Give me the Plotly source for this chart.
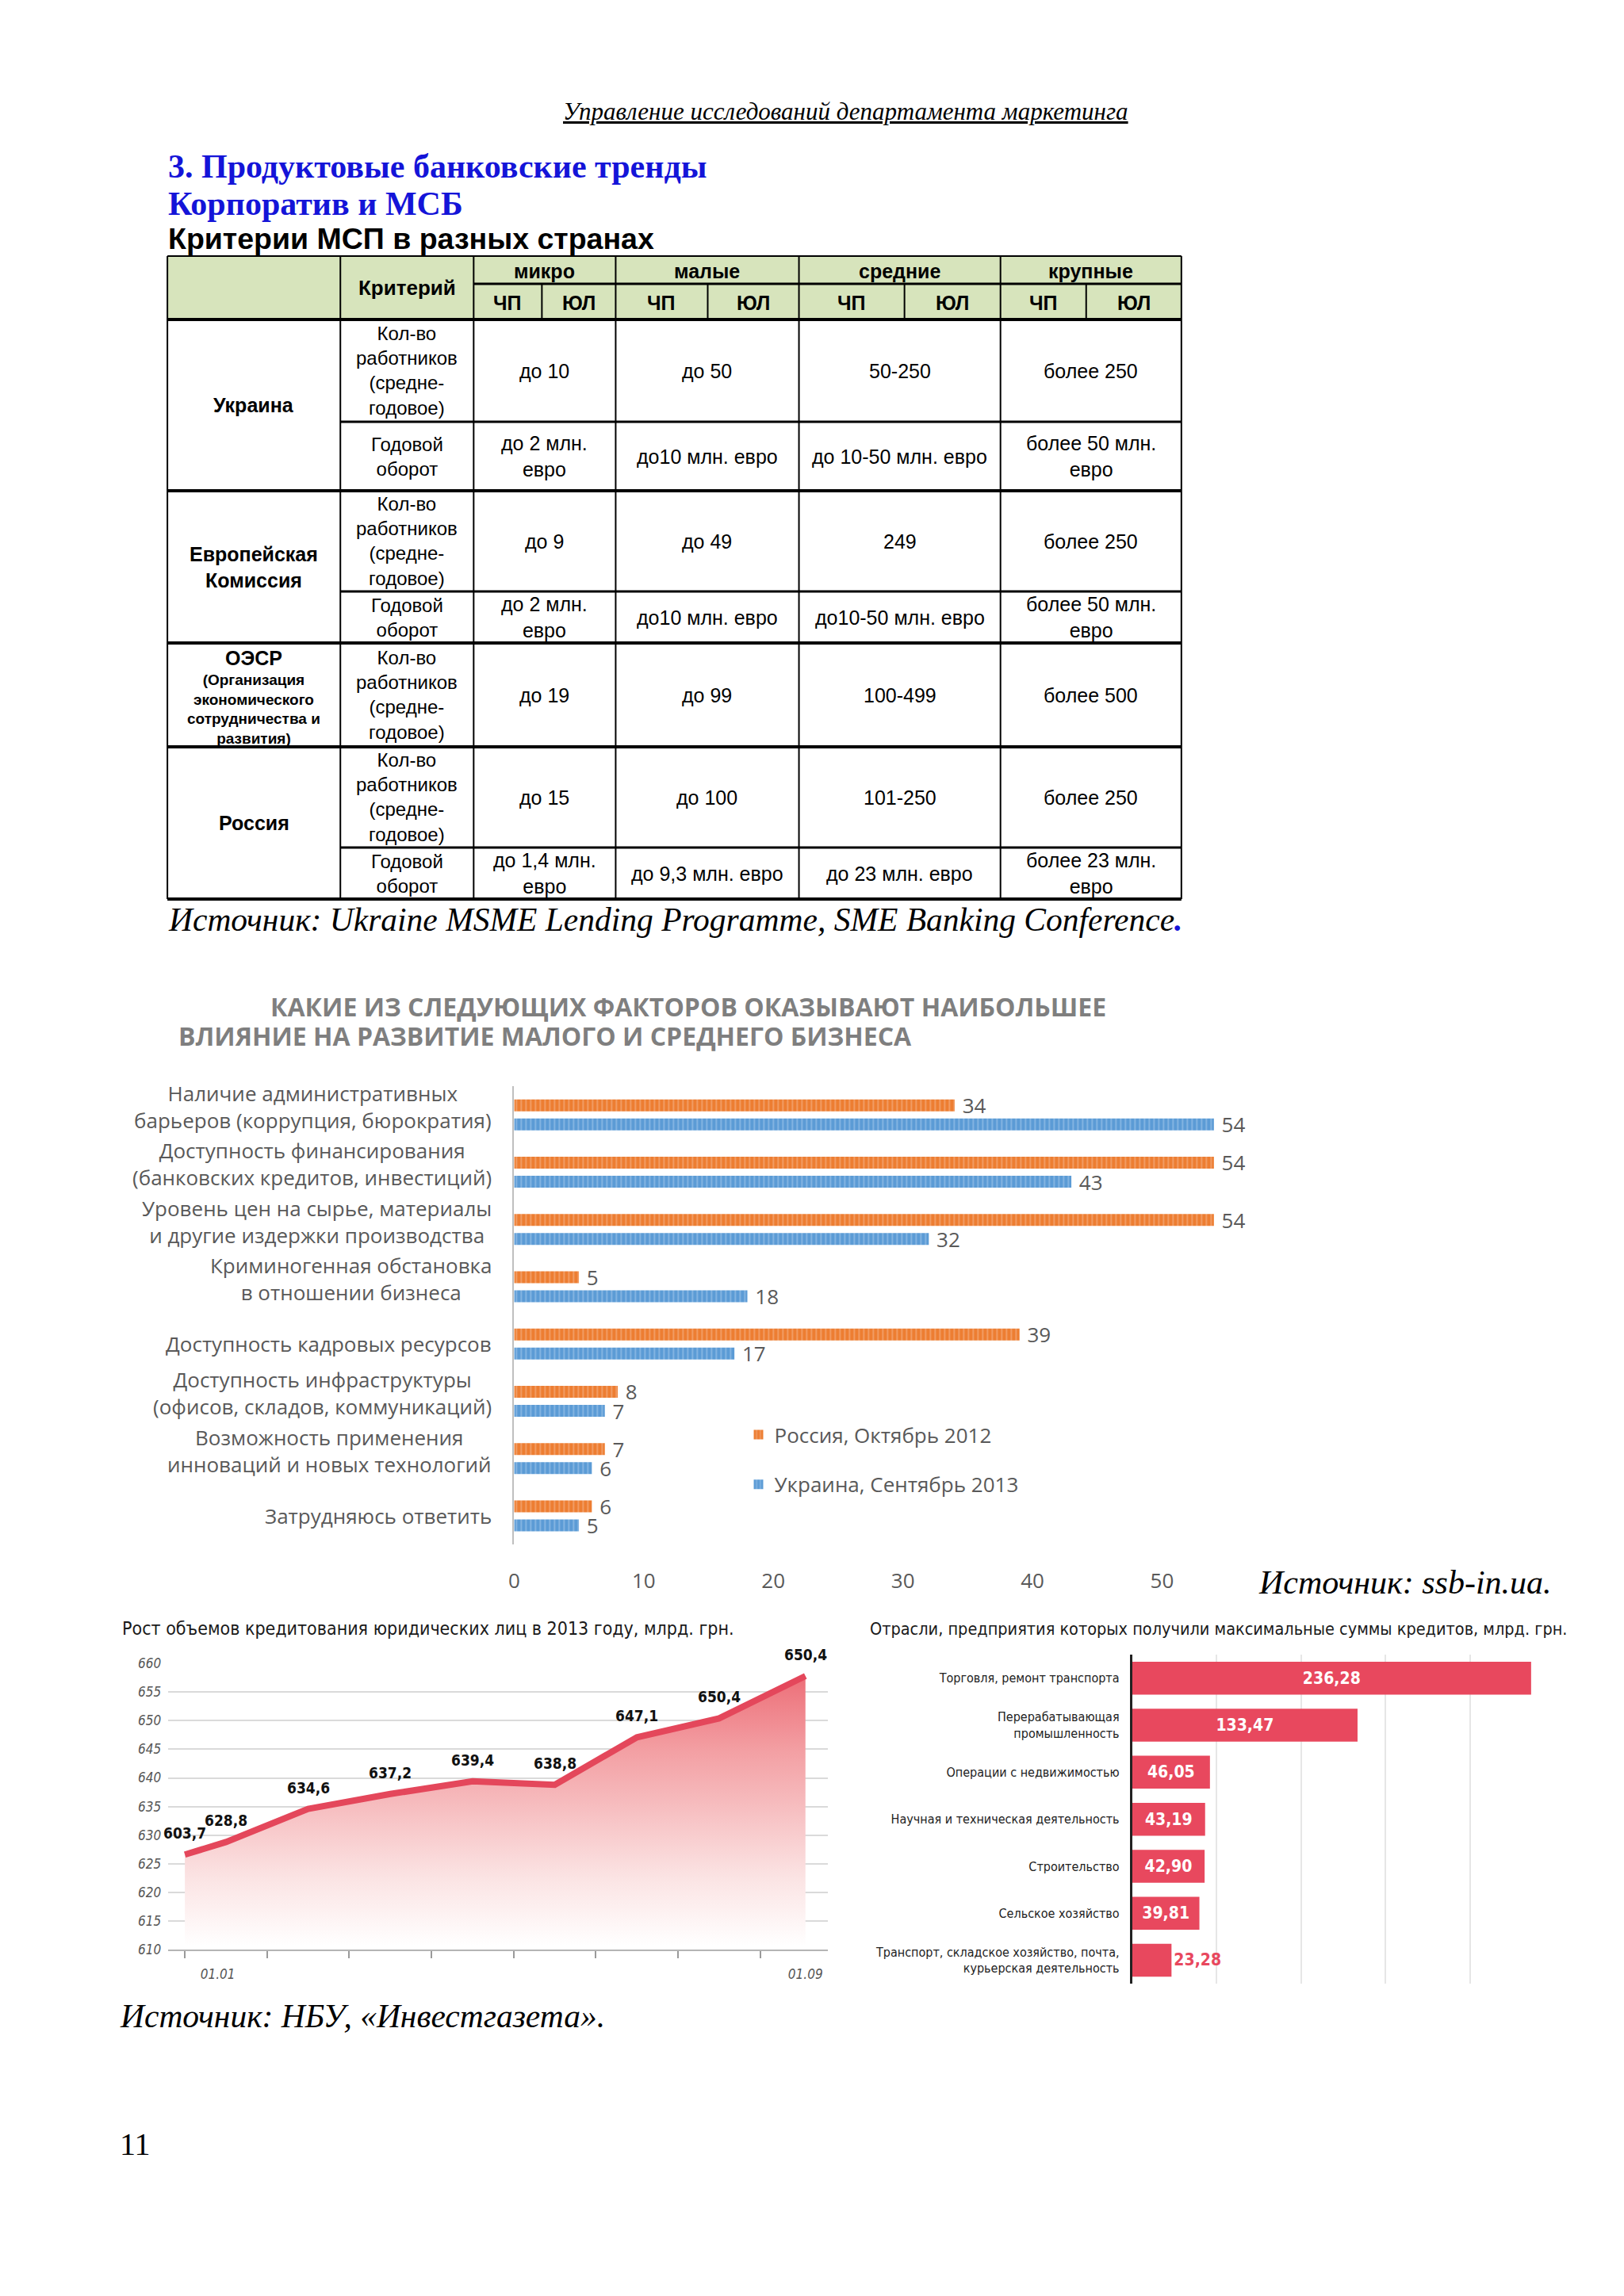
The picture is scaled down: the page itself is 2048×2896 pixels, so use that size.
import plotly.graph_objects as go

# figure size kept a little smaller than the page; positions below are page pixels
W, H = 2032, 2880
X_OFF, X_SCALE, Y_OFF, Y_SCALE = 13, 0.996, 18, 0.993

# ---------------- DATA ----------------
# Table: criteria of SME in different countries
table_groups = ["микро", "малые", "средние", "крупные"]
table_sub = ["ЧП", "ЮЛ"]
table_countries = ["Украина", "Европейская<br>Комиссия", "ОЭСР", "Россия"]
oecd_note = "(Организация<br>экономического<br>сотрудничества и<br>развития)"
crit_emp = "Кол-во<br>работников<br>(средне-<br>годовое)"
crit_turn = "Годовой<br>оборот"
ukraine_emp = ["до 10", "до 50", "50-250", "более 250"]
ukraine_turn = ["до 2 млн.<br>евро", "до10 млн. евро", "до 10-50 млн. евро", "более 50 млн.<br>евро"]
ec_emp = ["до 9", "до 49", "249", "более 250"]
ec_turn = ["до 2 млн.<br>евро", "до10 млн. евро", "до10-50 млн. евро", "более 50 млн.<br>евро"]
oecd_emp = ["до 19", "до 99", "100-499", "более 500"]
russia_emp = ["до 15", "до 100", "101-250", "более 250"]
russia_turn = ["до 1,4 млн.<br>евро", "до 9,3 млн. евро", "до 23 млн. евро", "более 23 млн.<br>евро"]

# Factors chart
factors = [
    "Наличие административных<br>барьеров (коррупция, бюрократия)",
    "Доступность финансирования<br>(банковских кредитов, инвестиций)",
    "Уровень цен на сырье, материалы<br>и другие издержки производства",
    "Криминогенная обстановка<br>в отношении бизнеса",
    "Доступность кадровых ресурсов",
    "Доступность инфраструктуры<br>(офисов, складов, коммуникаций)",
    "Возможность применения<br>инноваций и новых технологий",
    "Затрудняюсь ответить",
]
russia_2012 = [34, 54, 54, 5, 39, 8, 7, 6]
ukraine_2013 = [54, 43, 32, 18, 17, 7, 6, 5]
factor_ticks = [0, 10, 20, 30, 40, 50]

# Loans line chart
loan_month = [1.0, 1.5, 2.5, 3.5, 4.5, 5.5, 6.5, 7.5, 8.55]
loan_values = [626.6, 628.8, 634.6, 637.2, 639.4, 638.8, 647.1, 650.4, 657.8]
loan_labels = ["603,7", "628,8", "634,6", "637,2", "639,4", "638,8", "647,1", "650,4", "650,4"]
loan_yticks = [610, 615, 620, 625, 630, 635, 640, 645, 650, 655, 660]
loan_month_ticks = [1, 2, 3, 4, 5, 6, 7, 8]
loan_xlabels = ["01.01", "01.09"]
loan_xlabel_pos = [1.4, 8.55]

# Industries chart
industries = [
    "Торговля, ремонт транспорта",
    "Перерабатывающая<br>промышленность",
    "Операции с недвижимостью",
    "Научная и техническая деятельность",
    "Строительство",
    "Сельское хозяйство",
    "Транспорт, складское хозяйство, почта,<br>курьерская деятельность",
]
credits = [236.28, 133.47, 46.05, 43.19, 42.90, 39.81, 23.28]
credit_grid = [50, 100, 150, 200, 250]

# ---------------- HELPERS ----------------
def px(x):
    return ((x - X_OFF) / X_SCALE) / W

def py(y):
    return 1 - ((y - Y_OFF) / Y_SCALE) / H

SERIF = "Liberation Serif, Times New Roman, serif"
SANS = "Liberation Sans, Arial, sans-serif"
NARROW = "Liberation Sans Narrow, DejaVu Sans Condensed, Roboto Condensed, Arial Narrow, Liberation Sans"
OPEN = "Open Sans, Noto Sans, sans-serif"

annotations = []
shapes = []

def text(x, y, s, size, color="#000000", family=SANS, bold=False, italic=False,
         xanchor="center", yanchor="middle", align="center", underline=False):
    f = dict(size=size, color=color, family=family,
             weight="bold" if bold else "normal",
             style="italic" if italic else "normal")
    if underline:
        f["lineposition"] = "under"
    annotations.append(dict(x=px(x), y=py(y), xref="paper", yref="paper", text=s,
                            showarrow=False, xanchor=xanchor, yanchor=yanchor,
                            align=align, font=f, borderpad=0))

def hline(y, x0, x1, w=2):
    shapes.append(dict(type="line", xref="paper", yref="paper", x0=px(x0), x1=px(x1),
                       y0=py(y), y1=py(y), line=dict(color="#000000", width=w)))

def vline(x, y0, y1, w=2):
    shapes.append(dict(type="line", xref="paper", yref="paper", x0=px(x), x1=px(x),
                       y0=py(y0), y1=py(y1), line=dict(color="#000000", width=w)))

# ---------------- PAGE TEXT ----------------
text(1064, 140, "Управление исследований департамента маркетинга", 31, family=SERIF,
     italic=True, underline=True)
text(209, 210, "3. Продуктовые банковские тренды", 42, color="#1414d8", family=SERIF,
     bold=True, xanchor="left")
text(209, 257, "Корпоратив и МСБ", 42, color="#1414d8", family=SERIF, bold=True, xanchor="left")
text(209, 301, "Критерии МСП в разных странах", 37.5, family=SANS, bold=True, xanchor="left")

# ---------------- TABLE ----------------
col_x = [209, 427, 595, 681, 774, 890, 1005, 1138, 1259, 1367, 1487]
group_x = [595, 774, 1005, 1259, 1487]
t_top, t_mid, t_head = 323, 358, 403
country_rows = [[403, 532, 619], [619, 746, 811], [811, 942], [942, 1069, 1134]]
country_values = [[ukraine_emp, ukraine_turn], [ec_emp, ec_turn], [oecd_emp], [russia_emp, russia_turn]]

shapes.append(dict(type="rect", xref="paper", yref="paper", x0=px(col_x[0]), x1=px(col_x[-1]),
                   y0=py(t_head), y1=py(t_top), fillcolor="#d7e4bc", line=dict(width=0),
                   layer="below"))
hline(t_top, col_x[0], col_x[-1], 2)
hline(t_mid, col_x[2], col_x[-1], 3)
hline(t_head, col_x[0], col_x[-1], 4)
for rows in country_rows:
    for yy in rows[1:-1]:
        hline(yy, col_x[1], col_x[-1], 3)
    hline(rows[-1], col_x[0], col_x[-1], 4)
for xx in [col_x[0], col_x[1]] + group_x:
    vline(xx, t_top, country_rows[-1][-1], 2)
for xx in [681, 890, 1138, 1367]:
    vline(xx, t_mid, t_head, 2)

TS = 25
text((col_x[1] + col_x[2]) / 2, (t_top + t_head) / 2, "Критерий", 26, bold=True)
for i, g in enumerate(table_groups):
    text((group_x[i] + group_x[i + 1]) / 2, (t_top + t_mid) / 2 + 1, g, 25, bold=True)
sub_edges = [595, 681, 774, 890, 1005, 1138, 1259, 1367, 1487]
for i in range(8):
    text((sub_edges[i] + sub_edges[i + 1]) / 2, (t_mid + t_head) / 2 + 1, table_sub[i % 2], 25, bold=True)

for ci, (rows, vals) in enumerate(zip(country_rows, country_values)):
    cy = (rows[0] + rows[-1]) / 2
    if ci == 2:
        text((col_x[0] + col_x[1]) / 2, rows[0] + 19, table_countries[ci], 25, bold=True)
        text((col_x[0] + col_x[1]) / 2, (rows[0] + 34 + rows[-1]) / 2 + 1, oecd_note, 19, bold=True)
    else:
        text((col_x[0] + col_x[1]) / 2, cy, table_countries[ci], 25, bold=True)
    for ri, rowvals in enumerate(vals):
        ry = (rows[ri] + rows[ri + 1]) / 2
        crit = crit_emp if ri == 0 else crit_turn
        text((col_x[1] + col_x[2]) / 2, ry, crit, 24)
        for gi, v in enumerate(rowvals):
            text((group_x[gi] + group_x[gi + 1]) / 2, ry, v, TS)

text(209, 1160, "Источник: Ukraine MSME Lending Programme, SME Banking Conference"
     "<span style='color:#1414d8'><b>.</b></span>", 41.5, family=SERIF, italic=True, xanchor="left")

# ---------------- FACTORS CHART ----------------
GREY = "#595959"
text(338, 1269, "КАКИЕ ИЗ СЛЕДУЮЩИХ ФАКТОРОВ ОКАЗЫВАЮТ НАИБОЛЬШЕЕ", 32, color="#7f7f7f",
     family=OPEN, bold=True, xanchor="left")
text(222, 1306, "ВЛИЯНИЕ НА РАЗВИТИЕ МАЛОГО И СРЕДНЕГО БИЗНЕСА", 32, color="#7f7f7f",
     family=OPEN, bold=True, xanchor="left")

fig = go.Figure()
fig.add_trace(go.Bar(
    y=factors, x=russia_2012, orientation="h", name="Россия, Октябрь 2012",
    marker=dict(color="#ed7d31", line=dict(width=0),
                pattern=dict(shape="|", size=6, solidity=0.35, fgcolor="#f5b994", bgcolor="#ed7d31")),
    texttemplate="\u00a0%{x}", textposition="outside", cliponaxis=False, constraintext="none",
    textfont=dict(size=26, color=GREY, family=OPEN),
    xaxis="x", yaxis="y", legendgroup="r",
))
fig.add_trace(go.Bar(
    y=factors, x=ukraine_2013, orientation="h", name="Украина, Сентябрь 2013",
    marker=dict(color="#5b9bd5", line=dict(width=0),
                pattern=dict(shape="|", size=6, solidity=0.35, fgcolor="#a9cbee", bgcolor="#5b9bd5")),
    texttemplate="\u00a0%{x}", textposition="outside", cliponaxis=False, constraintext="none",
    textfont=dict(size=26, color=GREY, family=OPEN),
    xaxis="x", yaxis="y", legendgroup="u",
))
for f in factors:
    two = "<br>" in f
    annotations.append(dict(x=px(620), xref="paper", y=f, yref="y", text=f, showarrow=False,
                            xanchor="right", yanchor="middle", align="center",
                            yshift=10 if two else 0,
                            font=dict(size=26, color=GREY, family=OPEN)))

# ---------------- LOANS LINE CHART ----------------
text(151, 2054, "Рост объемов кредитования юридических лиц в 2013 году, млрд. грн.", 23,
     color="#1a1a1a", family=NARROW, xanchor="left")
fig.add_trace(go.Scatter(
    x=loan_month, y=loan_values, mode="lines",
    line=dict(color="#e4475b", width=8), fill="tozeroy",
    fillgradient=dict(type="vertical", start=611, stop=659,
                      colorscale=[[0, "#ffffff"], [0.25, "#fbe3e3"], [0.7, "#f3a0a4"], [1, "#ec6a74"]]),
    xaxis="x2", yaxis="y2", showlegend=False,
))
for xm, yv, lab in zip(loan_month, loan_values, loan_labels):
    annotations.append(dict(x=xm, y=yv, xref="x2", yref="y2", text=lab, showarrow=False,
                            xanchor="center", yanchor="middle", yshift=27,
                            font=dict(size=19, color="#111111", family=NARROW, weight="bold")))

# ---------------- INDUSTRIES CHART ----------------
text(1093, 2054, "Отрасли, предприятия которых получили максимальные суммы кредитов, млрд. грн.", 21.5,
     color="#1a1a1a", family=NARROW, xanchor="left")
credit_text = [f"{v:.2f}".replace(".", ",") for v in credits]
fig.add_trace(go.Bar(
    y=industries, x=credits, orientation="h", width=0.7,
    marker=dict(color="#e8485e", line=dict(width=0)),
    text=credit_text,
    textposition=["inside"] * 6 + ["outside"],
    insidetextanchor="middle", constraintext="none", cliponaxis=False,
    textfont=dict(size=21, family=NARROW, weight="bold",
                  color=["#ffffff"] * 6 + ["#e8485e"]),
    xaxis="x3", yaxis="y3", showlegend=False,
))

# sources and page number
text(1583, 1996, "Источник: ssb-in.ua.", 42, family=SERIF, italic=True, xanchor="left")
text(148, 2543, "Источник: НБУ, «Инвестгазета».", 41.5, family=SERIF, italic=True, xanchor="left")
text(148, 2704, "11", 40, family=SERIF, xanchor="left")

# ---------------- LAYOUT ----------------
fig.update_layout(
    width=W, height=H, margin=dict(l=0, r=0, t=0, b=0, pad=0),
    paper_bgcolor="#ffffff", plot_bgcolor="rgba(0,0,0,0)",
    barmode="group", bargap=0.333, bargroupgap=0.375,
    showlegend=True,
    legend=dict(x=px(934), y=py(1786), xanchor="left", yanchor="top", orientation="v",
                font=dict(size=26, color=GREY, family=OPEN), bgcolor="rgba(0,0,0,0)",
                tracegroupgap=26, itemwidth=30, traceorder="grouped"),
    annotations=annotations, shapes=shapes,
    # factors
    xaxis=dict(domain=[px(646), px(1626)], range=[0, 60], tickvals=factor_ticks,
               showgrid=False, zeroline=False, showline=False, ticks="",
               tickfont=dict(size=26, color=GREY, family=OPEN), ticklabelstandoff=28,
               anchor="y"),
    yaxis=dict(domain=[py(1948), py(1370)], autorange="reversed", showticklabels=False,
               showgrid=False, zeroline=False, showline=True, linecolor="#bfbfbf", linewidth=2,
               ticks="", anchor="x"),
    # loans
    xaxis2=dict(domain=[px(210), px(1041)], range=[1 - 21 / 103.6, 1 + 810 / 103.6],
                tickvals=loan_xlabel_pos, ticktext=loan_xlabels, ticks="",
                tickfont=dict(size=17, color="#555555", family=NARROW, style="italic"),
                ticklabelstandoff=14,
                minor=dict(tickvals=loan_month_ticks, ticks="outside", ticklen=9,
                           tickcolor="#9a9a9a", tickwidth=2, showgrid=False),
                showgrid=False, zeroline=False, showline=True, linecolor="#b5b5b5",
                linewidth=2, anchor="y2"),
    yaxis2=dict(domain=[py(2459), py(2098)], range=[610, 660], tickvals=loan_yticks,
                showgrid=True, gridcolor="#dadada", gridwidth=2, zeroline=False,
                showline=False, ticks="",
                tickfont=dict(size=17, color="#555555", family=NARROW, style="italic"),
                ticklabelstandoff=8, anchor="x2"),
    # industries
    xaxis3=dict(domain=[px(1425), px(1957)], range=[0, 250], tickvals=credit_grid,
                showticklabels=False, showgrid=True, gridcolor="#e6e6e6", gridwidth=2,
                zeroline=False, showline=False, ticks="", anchor="y3"),
    yaxis3=dict(domain=[py(2502), py(2087)], autorange="reversed", showgrid=False,
                zeroline=False, showline=True, linecolor="#222222", linewidth=3, ticks="",
                tickfont=dict(size=16, color="#222222", family=NARROW),
                ticklabelstandoff=10, anchor="x3"),
)

fig.write_html("out.html")
